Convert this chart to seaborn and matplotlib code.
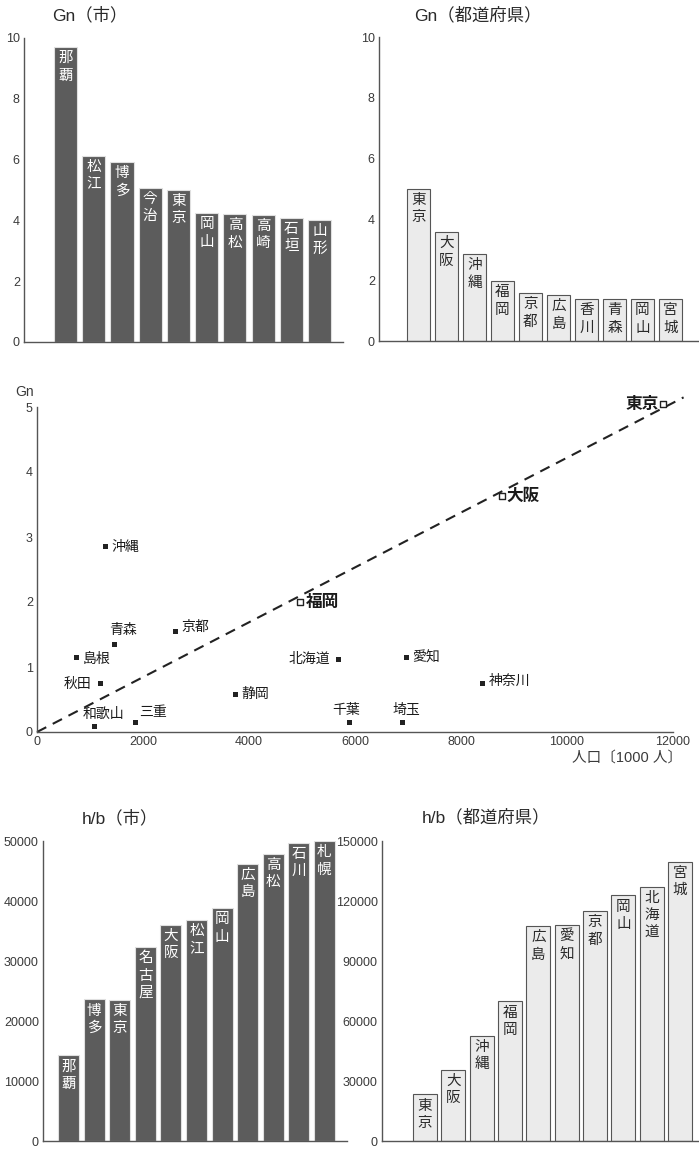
import matplotlib
matplotlib.use('Agg')
import matplotlib.pyplot as plt
import seaborn as sns

# ── Data ──────────────────────────────────────────────────────────────────────
gn_city_names  = ['那覇', '松江', '博多', '今治', '東京', '岡山', '高松', '高崎', '石垣', '山形']
gn_city_values = [9.70, 6.12, 5.92, 5.07, 5.00, 4.24, 4.21, 4.18, 4.08, 4.01]

gn_pref_names  = ['東京', '大阪', '沖縄', '福岡', '京都', '広島', '香川', '青森', '岡山', '宮城']
gn_pref_values = [5.00, 3.58, 2.86, 1.97, 1.58, 1.51, 1.38, 1.38, 1.38, 1.38]

pop_names = ['東京', '大阪', '福岡', '沖縄', '京都', '青森', '島根', '秋田', '和歌山',
             '三重', '静岡', '北海道', '千葉', '埼玉', '愛知', '神奈川']
pop_x  = [11810, 8770, 4960, 1290, 2620, 1470, 750, 1190, 1080,
          1850, 3750, 5680, 5890, 6890, 6980, 8400]
pop_gn = [5.05, 3.63, 2.00, 2.85, 1.55, 1.35, 1.15, 0.74, 0.08,
          0.14, 0.57, 1.12, 0.14, 0.15, 1.14, 0.75]
open_marks = ['東京', '大阪', '福岡']
trend_slope = 4.22e-4
trend_x = [0, 12200]

hb_city_names  = ['那覇', '博多', '東京', '名古屋', '大阪', '松江', '岡山', '広島', '高松', '石川', '札幌']
hb_city_values = [14300, 23600, 23500, 32300, 36000, 36800, 38800, 46200, 47900, 49700, 50000]

hb_pref_names  = ['東京', '大阪', '沖縄', '福岡', '広島', '愛知', '京都', '岡山', '北海道', '宮城']
hb_pref_values = [23300, 35600, 52500, 69800, 107400, 107900, 114900, 122800, 127200, 139600]

# ── Style ─────────────────────────────────────────────────────────────────────
sns.set_style('white')
plt.rcParams['font.family'] = ['Liberation Sans', 'Noto Sans CJK JP']
JP = ['Noto Sans CJK JP', 'DejaVu Sans']
AX_COL   = '#555555'
TXT_COL  = '#2a2a2a'
DARK     = '#5c5c5c'
LIGHT    = '#ebebeb'
W, H = 699, 1150

def rect(l, t, r, b):
    return [l / W, 1 - b / H, (r - l) / W, (b - t) / H]

def style_axis(ax):
    sns.despine(ax=ax)
    for s in ('left', 'bottom'):
        ax.spines[s].set_color(AX_COL)
        ax.spines[s].set_linewidth(1.0)
    ax.tick_params(axis='both', direction='in', length=5, width=0.9,
                   color=AX_COL, labelsize=9, labelcolor='#3a3a3a', pad=3)
    ax.set_xlabel('')
    ax.set_ylabel('')

def bar_panel(ax, names, values, color, txt_color, ymax, yticks, xlim, width):
    sns.barplot(x=names, y=values, ax=ax, color=color, width=width, saturation=1,
                edgecolor=AX_COL if color == LIGHT else '#e0e0e0', linewidth=0.8)
    ax.set_ylim(0, ymax)
    ax.set_yticks(yticks)
    ax.set_xlim(*xlim)
    ax.set_xticks([])
    style_axis(ax)
    for i, (n, v) in enumerate(zip(names, values)):
        ax.annotate('\n'.join(n), (i, v), xytext=(0, -3), textcoords='offset points',
                    ha='center', va='top', fontsize=10.5, color=txt_color,
                    family=JP, linespacing=1.3)

fig = plt.figure(figsize=(W / 100, H / 100), dpi=100)
fig.patch.set_facecolor('white')

# ── Gn (city) ─────────────────────────────────────────────────────────────────
ax1 = fig.add_axes(rect(24, 38, 343, 342))
bar_panel(ax1, gn_city_names, gn_city_values, DARK, 'white', 10, range(0, 11, 2),
          (-1.47, 9.83), 0.82)
fig.text(90 / W, 1 - 15 / H, 'Gn（市）', ha='center', va='center', fontsize=12.5, color=TXT_COL)

# ── Gn (prefecture) ───────────────────────────────────────────────────────────
ax2 = fig.add_axes(rect(379, 37, 699, 341))
bar_panel(ax2, gn_pref_names, gn_pref_values, LIGHT, TXT_COL, 10, range(0, 11, 2),
          (-1.41, 10.02), 0.82)
fig.text(478 / W, 1 - 15 / H, 'Gn（都道府県）', ha='center', va='center', fontsize=12.5, color=TXT_COL)

# ── Scatter: population vs Gn ─────────────────────────────────────────────────
ax3 = fig.add_axes(rect(37, 407, 673, 732))
is_open = [n in open_marks for n in pop_names]
fx = [x for x, o in zip(pop_x, is_open) if not o]
fy = [y for y, o in zip(pop_gn, is_open) if not o]
ox = [x for x, o in zip(pop_x, is_open) if o]
oy = [y for y, o in zip(pop_gn, is_open) if o]
sns.lineplot(x=trend_x, y=[trend_slope * v for v in trend_x], ax=ax3, color='#222222',
             linestyle=(0, (5, 3.5)), linewidth=1.5)
ax3.lines[-1].set_clip_on(False)
sns.scatterplot(x=fx, y=fy, ax=ax3, marker='s', color='#222222', s=13,
                edgecolor='none', clip_on=False)
sns.scatterplot(x=ox, y=oy, ax=ax3, marker='s', facecolor='white', edgecolor='#222222',
                s=15, linewidth=1.0, clip_on=False, zorder=5)
ax3.set_xlim(0, 12000)
ax3.set_ylim(0, 5)
ax3.set_xticks(range(0, 12001, 2000))
ax3.set_yticks(range(0, 6))
style_axis(ax3)

# label placement: (dx, dy in points, ha, va, big)
label_pos = {
    '東京': (-3, 0, 'right', 'center', True),
    '大阪': (3, 0, 'left', 'center', True),
    '福岡': (4, 0, 'left', 'center', True),
    '沖縄': (4, 0, 'left', 'center', False),
    '京都': (4, 3, 'left', 'center', False),
    '青森': (6, 5, 'center', 'bottom', False),
    '島根': (4, -1, 'left', 'center', False),
    '秋田': (-6, 0, 'right', 'center', False),
    '和歌山': (-8, 4, 'left', 'bottom', False),
    '三重': (3, 3, 'left', 'bottom', False),
    '静岡': (4, 1, 'left', 'center', False),
    '北海道': (-6, 0, 'right', 'center', False),
    '千葉': (-2, 4, 'center', 'bottom', False),
    '埼玉': (3, 4, 'center', 'bottom', False),
    '愛知': (4, 0, 'left', 'center', False),
    '神奈川': (5, 2, 'left', 'center', False),
}
for n, x, y in zip(pop_names, pop_x, pop_gn):
    dx, dy, ha, va, big = label_pos[n]
    ax3.annotate(n, (x, y), xytext=(dx, dy), textcoords='offset points', ha=ha, va=va,
                 fontsize=12 if big else 10, color='#1a1a1a', family=JP,
                 fontweight='bold' if big else 'normal', annotation_clip=False)
fig.text(15 / W, 1 - 392 / H, 'Gn', ha='left', va='center', fontsize=10, color='#3a3a3a')
fig.text(682 / W, 1 - 758 / H, '人口〔1000 人〕', ha='right', va='center', fontsize=10.5, color='#3a3a3a')

# ── h/b (city) ────────────────────────────────────────────────────────────────
ax5 = fig.add_axes(rect(43, 841, 347, 1141))
bar_panel(ax5, hb_city_names, hb_city_values, DARK, 'white', 50000, range(0, 50001, 10000),
          (-1.0, 10.88), 0.82)
fig.text(120 / W, 1 - 818 / H, 'h/b（市）', ha='center', va='center', fontsize=12.5, color=TXT_COL)

# ── h/b (prefecture) ──────────────────────────────────────────────────────────
ax6 = fig.add_axes(rect(382, 841, 699, 1141))
bar_panel(ax6, hb_pref_names, hb_pref_values, LIGHT, TXT_COL, 150000, range(0, 150001, 30000),
          (-1.52, 9.67), 0.85)
fig.text(486 / W, 1 - 817 / H, 'h/b（都道府県）', ha='center', va='center', fontsize=12.5, color=TXT_COL)

fig.savefig('out.png', dpi=100)
